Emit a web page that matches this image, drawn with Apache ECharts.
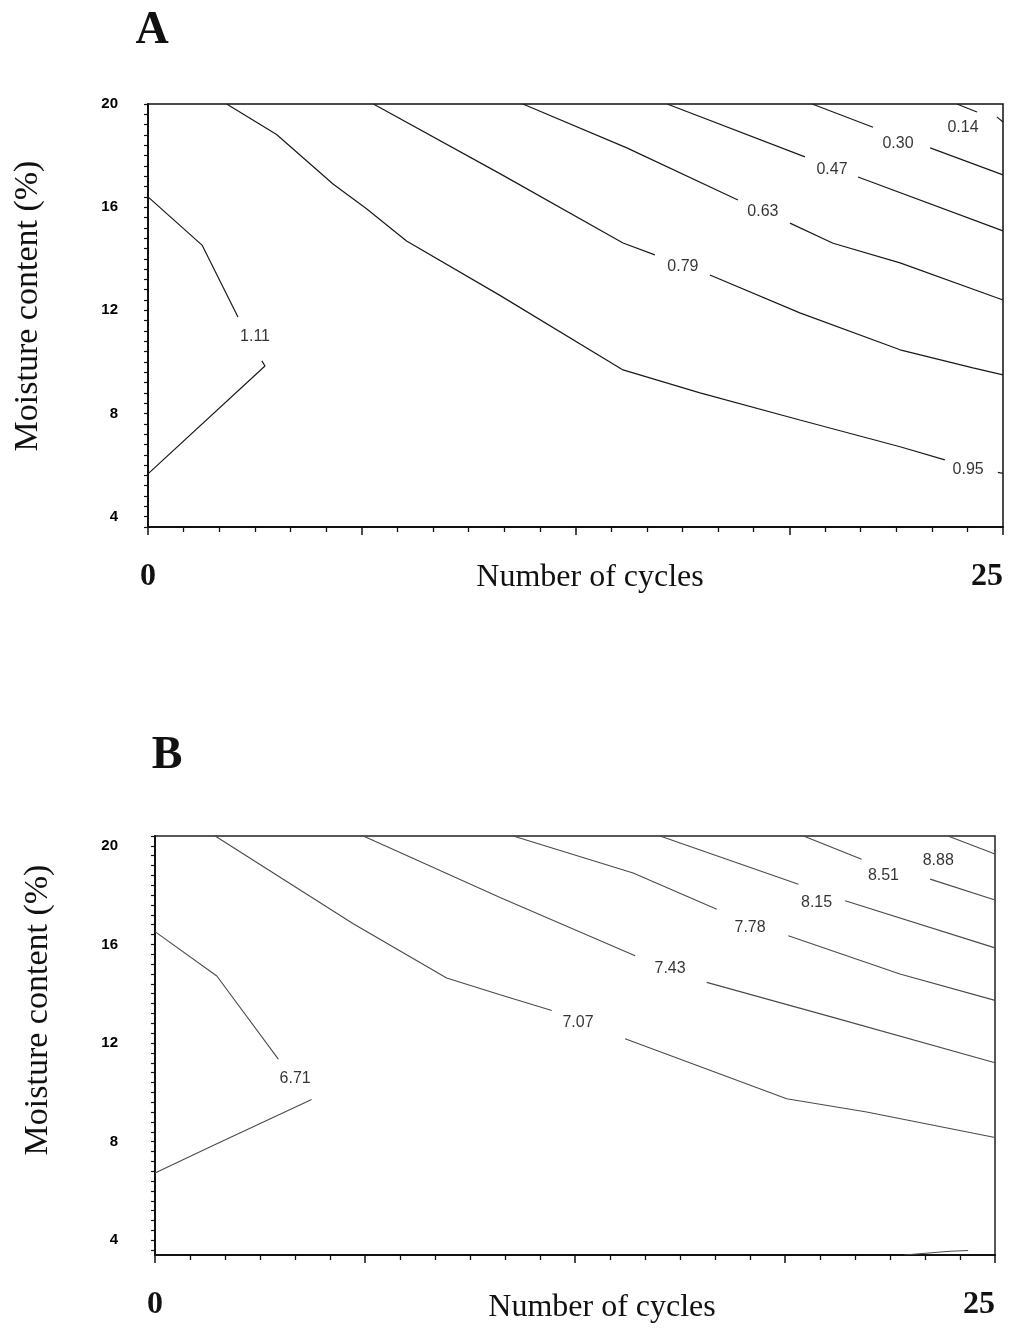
<!DOCTYPE html>
<html>
<head>
<meta charset="utf-8">
<script src="https://cdn.jsdelivr.net/npm/echarts@6/dist/echarts.min.js"></script>
<style>html,body{margin:0;padding:0;background:#fff}#c{width:1011px;height:1329px}</style>
</head>
<body>
<div id="c"></div>
<script>
// ---------- Tick labels ----------
const yTickLabels = [4, 8, 12, 16, 20];
const xTickLabels = [0, 25];

// ---------- Panel A contour segments [cycles, moisture %] ----------
const a111Upper = [[0,16.40],[1.58,14.53],[2.63,11.74]];
const a111Lower = [[3.33,10.04],[3.42,9.84],[0,5.66]];
const a095Main  = [[2.30,20],[3.76,18.82],[5.41,16.90],[6.39,15.94],[7.56,14.69],[10.29,12.58],[13.89,9.69],[16.14,8.80],[19.06,7.75],[21.99,6.71],[23.30,6.20]];
const a095Tail  = [[24.85,5.72],[25,5.68]];
const a079Left  = [[6.59,20],[10.29,17.30],[13.89,14.61],[14.82,14.15]];
const a079Right = [[16.43,13.37],[19.06,11.90],[21.99,10.47],[24.12,9.77],[25,9.50]];
const a063Left  = [[10.96,20],[14.00,18.30],[17.25,16.28]];
const a063Right = [[18.77,15.38],[20.03,14.60],[21.99,13.84],[25,12.40]];
const a047Left  = [[15.18,20],[19.21,17.95]];
const a047Right = [[20.76,17.17],[25,15.08]];
const a030Left  = [[19.42,20],[21.20,19.10]];
const a030Right = [[22.87,18.30],[25,17.25]];
const a014Left  = [[23.65,20],[24.24,19.69]];
const a014Right = [[24.82,19.50],[25,19.30]];
const aLabelText = ['1.11','0.95','0.79','0.63','0.47','0.30','0.14'];
const aLabelX    = [3.13, 23.98, 15.64, 17.98, 20.00, 21.93, 23.83];
const aLabelY    = [10.97, 5.81, 13.68, 15.81, 17.44, 18.48, 19.10];

// ---------- Panel B contour segments ----------
const b671Upper = [[0,16.52],[1.84,14.72],[3.67,11.35]];
const b671Lower = [[4.66,9.71],[1.84,7.91],[0,6.73]];
const b707Left  = [[1.79,20.4],[5.90,16.84],[8.68,14.64],[10.27,13.96],[11.81,13.32]];
const b707Right = [[13.99,12.17],[18.80,9.74],[21.18,9.20],[25,8.17]];
const b743Left  = [[6.20,20.4],[10.27,17.90],[14.29,15.54]];
const b743Right = [[16.42,14.46],[20.18,13.04],[25,11.20]];
const b778Left  = [[10.66,20.4],[14.23,18.90],[16.72,17.43]];
const b778Right = [[18.85,16.35],[22.17,14.80],[25,13.73]];
const b815Left  = [[15.03,20.4],[19.15,18.44]];
const b815Right = [[20.54,17.77],[25,15.86]];
const b851Left  = [[19.30,20.4],[21.03,19.46]];
const b851Right = [[23.07,18.65],[25,17.80]];
const b888Line  = [[23.60,20.4],[25,19.67]];
const bCorner   = [[22.30,3.40],[23.66,3.55],[24.20,3.58]];
const bLabelText = ['6.71','7.07','7.43','7.78','8.15','8.51','8.88'];
const bLabelX    = [4.17, 12.59, 15.33, 17.71, 19.69, 21.68, 23.31];
const bLabelY    = [10.57, 12.83, 15.02, 16.69, 17.69, 18.78, 19.39];

const aSegments = [a111Upper,a111Lower,a095Main,a095Tail,a079Left,a079Right,a063Left,a063Right,a047Left,a047Right,a030Left,a030Right,a014Left,a014Right];
const bSegments = [b671Upper,b671Lower,b707Left,b707Right,b743Left,b743Right,b778Left,b778Right,b815Left,b815Right,b851Left,b851Right,b888Line,bCorner];

const SERIF = '"Liberation Serif","Times New Roman",serif';
const SANS = '"Liberation Sans",Arial,sans-serif';

function minorTicks(lo, hi) {
  const out = [];
  for (let v = 4; v <= hi + 1e-9; v += 0.4) out.push(Math.round(v * 100) / 100);
  for (let v = 3.6; v >= lo - 1e-9; v -= 0.4) out.push(Math.round(v * 100) / 100);
  return out;
}

function xAxisFor(gi) {
  return {
    type: 'value', gridIndex: gi, min: 0, max: 25, interval: 6.25,
    axisLine: { show: true, lineStyle: { color: '#111', width: 2 } },
    axisTick: { show: true, length: 8, lineStyle: { color: '#111', width: 1.5 } },
    minorTick: { show: true, splitNumber: 6, length: 5, lineStyle: { color: '#111', width: 1.3 } },
    splitLine: { show: false }, minorSplitLine: { show: false },
    axisLabel: {
      show: true, margin: 34, fontFamily: SERIF, fontWeight: 'bold', fontSize: 32, color: '#111',
      alignMaxLabel: 'right',
      formatter: v => (xTickLabels.indexOf(v) >= 0 ? String(v) : '')
    }
  };
}
function yAxisFor(gi, lo, hi, margin) {
  return {
    type: 'value', gridIndex: gi, min: lo, max: hi,
    axisLine: { show: true, lineStyle: { color: '#111', width: 2 } },
    axisTick: { show: true, length: 4, customValues: minorTicks(lo, hi), lineStyle: { color: '#111', width: 1.2 } },
    splitLine: { show: false },
    axisLabel: {
      show: true, margin: margin, customValues: yTickLabels,
      fontFamily: SANS, fontWeight: 'bold', fontSize: 15, color: '#000'
    }
  };
}

function lineSeries(seg, xi, color, width) {
  return {
    type: 'line', xAxisIndex: xi, yAxisIndex: xi, data: seg,
    symbol: 'none', silent: true, animation: false,
    lineStyle: { color: color, width: width }
  };
}
function labelSeries(texts, xs, ys, xi) {
  return {
    type: 'scatter', xAxisIndex: xi, yAxisIndex: xi, symbolSize: 0, silent: true, animation: false,
    data: texts.map((t, i) => [xs[i], ys[i], t]),
    label: {
      show: true, position: 'inside', formatter: p => p.value[2],
      fontFamily: SANS, fontSize: 16, color: '#000'
    }
  };
}

const series = [];
aSegments.forEach(s => series.push(lineSeries(s, 0, '#1a1a1a', 1.2)));
bSegments.forEach(s => series.push(lineSeries(s, 1, '#4a4a4a', 1.1)));
series.push(labelSeries(aLabelText, aLabelX, aLabelY, 0));
series.push(labelSeries(bLabelText, bLabelX, bLabelY, 1));

const chart = echarts.init(document.getElementById('c'), null, { renderer: 'canvas' });
chart.setOption({
  backgroundColor: '#fff',
  animation: false,
  grid: [
    { left: 148, top: 104, width: 855, height: 423, show: true, borderColor: '#111', borderWidth: 1.5, backgroundColor: 'transparent' },
    { left: 155, top: 836, width: 840, height: 419, show: true, borderColor: '#222', borderWidth: 1.5, backgroundColor: 'transparent' }
  ],
  xAxis: [xAxisFor(0), xAxisFor(1)],
  yAxis: [yAxisFor(0, 3.6, 20, 30), yAxisFor(1, 3.4, 20.4, 37)],
  series: series,
  graphic: [
    { type: 'text', x: 152, y: 31, style: { text: 'A', x: 0, y: 0, align: 'center', verticalAlign: 'middle', font: 'bold 46px ' + SERIF, fill: '#111' } },
    { type: 'text', x: 167, y: 756, style: { text: 'B', x: 0, y: 0, align: 'center', verticalAlign: 'middle', font: 'bold 46px ' + SERIF, fill: '#111' } },
    { type: 'text', x: 28, y: 306, rotation: Math.PI / 2, style: { text: 'Moisture content (%)', x: 0, y: 0, align: 'center', verticalAlign: 'middle', font: '34px ' + SERIF, fill: '#111' } },
    { type: 'text', x: 38, y: 1010, rotation: Math.PI / 2, style: { text: 'Moisture content (%)', x: 0, y: 0, align: 'center', verticalAlign: 'middle', font: '34px ' + SERIF, fill: '#111' } },
    { type: 'text', x: 590, y: 578, style: { text: 'Number of cycles', x: 0, y: 0, align: 'center', verticalAlign: 'middle', font: '32px ' + SERIF, fill: '#111' } },
    { type: 'text', x: 602, y: 1308, style: { text: 'Number of cycles', x: 0, y: 0, align: 'center', verticalAlign: 'middle', font: '32px ' + SERIF, fill: '#111' } }
  ]
});
</script>
</body>
</html>
